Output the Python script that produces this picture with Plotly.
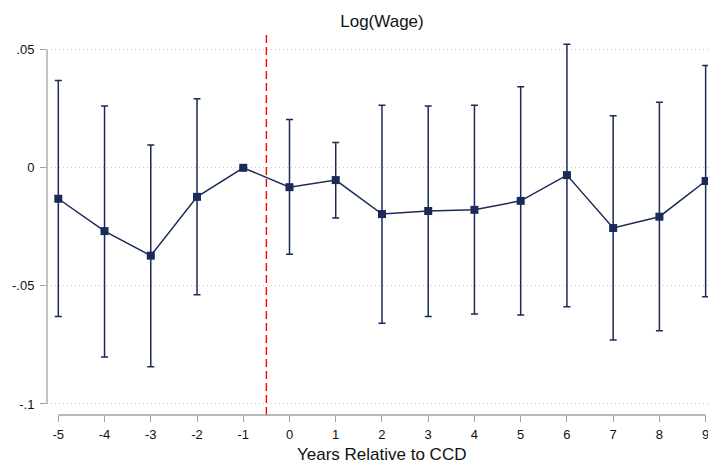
import plotly.graph_objects as go

# Data
years = [-5, -4, -3, -2, -1, 0, 1, 2, 3, 4, 5, 6, 7, 8, 9]
estimate = [-0.0131, -0.0268, -0.0372, -0.0123, 0.0, -0.0082, -0.0052, -0.0196,
            -0.0183, -0.0178, -0.0140, -0.0031, -0.0255, -0.0207, -0.0056]
ci_upper = [0.0370, 0.0262, 0.0096, 0.0292, 0.0, 0.0205, 0.0107, 0.0265,
            0.0262, 0.0265, 0.0343, 0.0523, 0.0220, 0.0277, 0.0433]
ci_lower = [-0.0630, -0.0801, -0.0842, -0.0538, 0.0, -0.0366, -0.0213, -0.0658,
            -0.0630, -0.0619, -0.0623, -0.0588, -0.0729, -0.0690, -0.0546]
y_ticks = [-0.1, -0.05, 0, 0.05]
y_tick_labels = ["-.1", "-.05", "0", ".05"]
x_ticks = years
event_line = -0.5

navy = "#1b2a56"
axis_gray = "#a0a0a0"
font_family = "Liberation Sans, Arial, Helvetica, sans-serif"

err_plus = [u - e for u, e in zip(ci_upper, estimate)]
err_minus = [e - l for e, l in zip(estimate, ci_lower)]

fig = go.Figure()
fig.add_trace(go.Scatter(
    x=years, y=estimate, mode="lines+markers",
    line=dict(color=navy, width=1.5),
    marker=dict(symbol="square", size=8, color=navy),
    error_y=dict(type="data", symmetric=False, array=err_plus, arrayminus=err_minus,
                 color=navy, thickness=1.5, width=3.5),
    cliponaxis=False, showlegend=False,
))

# vertical event line
fig.add_shape(type="line", x0=event_line, x1=event_line, xref="x",
              y0=0, y1=1, yref="paper",
              line=dict(color="#ff0000", width=1.4, dash="8px,4px"))
# axis lines spanning tick range (Stata style)
fig.add_shape(type="line", xref="paper", x0=0, x1=0, yref="y",
              y0=min(y_ticks), y1=max(y_ticks),
              line=dict(color=axis_gray, width=1.3))
fig.add_shape(type="line", yref="paper", y0=0, y1=0, xref="x",
              x0=min(x_ticks), x1=max(x_ticks),
              line=dict(color=axis_gray, width=1.3))

fig.add_annotation(text="Years Relative to CCD", x=2, xref="x",
                   y=-0.1034, yref="paper", yanchor="middle", showarrow=False,
                   font=dict(size=17, color="#111111", family=font_family))

fig.update_layout(
    width=708, height=466,
    margin=dict(l=47, r=0, t=33, b=51),
    paper_bgcolor="white", plot_bgcolor="white",
    font=dict(family=font_family, size=13, color="#111111"),
    title=dict(text="Log(Wage)", x=0.5068, xref="paper", xanchor="center",
               y=1 - 21 / 466, yanchor="middle",
               font=dict(size=17, color="#111111", family=font_family)),
    xaxis=dict(range=[-5.2444, 9.051], tickmode="array", tickvals=x_ticks,
               ticktext=[str(v) for v in x_ticks],
               showgrid=False, zeroline=False, showline=False,
               ticks="outside", ticklen=6, tickwidth=1.3, tickcolor=axis_gray,
               ticklabeloverflow="allow", ticklabelstandoff=1,
               tickfont=dict(size=13)),
    yaxis=dict(range=[-0.10466, 0.05707], tickmode="array", tickvals=y_ticks,
               ticktext=y_tick_labels,
               showgrid=True, gridcolor="#c8c8c8", griddash="1px,3px", gridwidth=1,
               zeroline=False, showline=False,
               ticks="outside", ticklen=6, tickwidth=1.3, tickcolor=axis_gray,
               ticklabelstandoff=3, tickfont=dict(size=13)),
)

fig.write_html("out.html")
